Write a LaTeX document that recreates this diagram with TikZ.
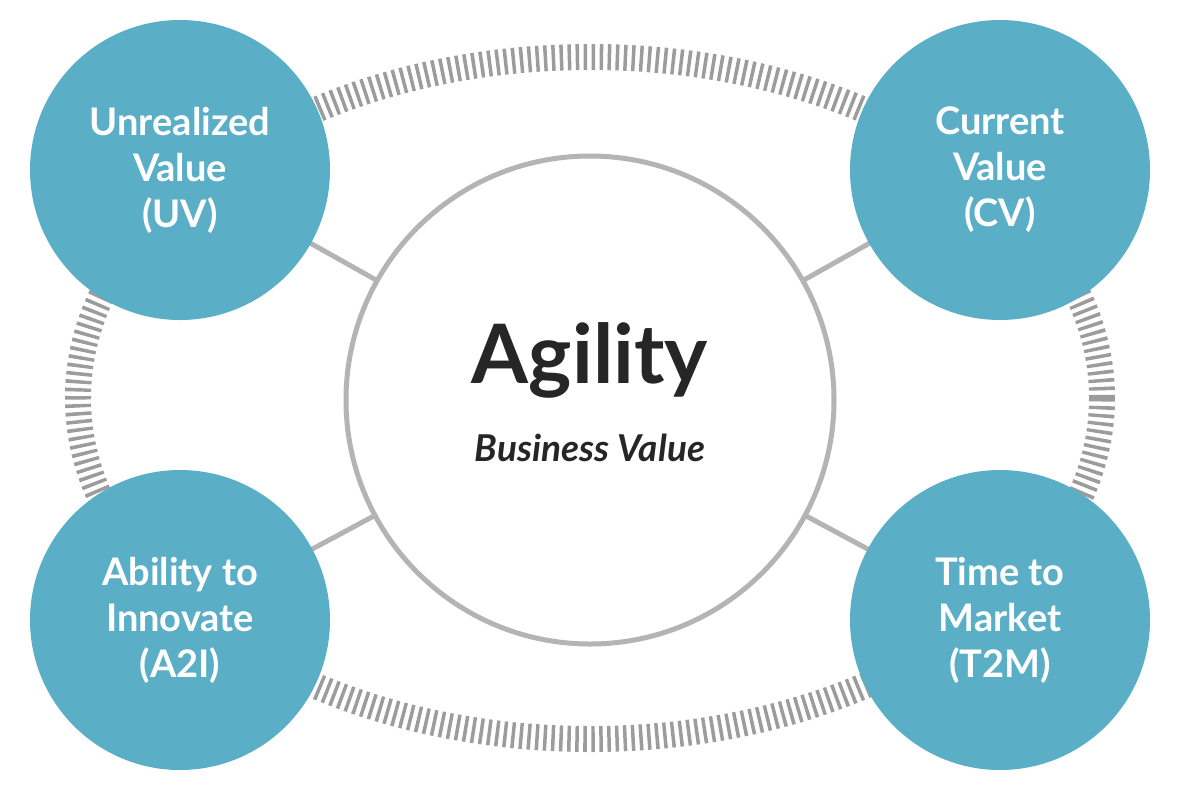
\documentclass[tikz,border=0pt]{standalone}
\usepackage{fontspec}
\setmainfont{Lato}
\definecolor{tealb}{HTML}{5AAFC7}
\definecolor{ringg}{HTML}{9C9C9C}
\definecolor{lineg}{HTML}{B4B4B6}
\begin{document}
\begin{tikzpicture}[x=1pt,y=-1pt,
  blue/.style={circle,fill=tealb,minimum size=300pt,inner sep=0pt,align=center,text=white,font=\fontsize{38}{46}\selectfont\bfseries},
  conn/.style={lineg,line width=5pt}]
\useasboundingbox (0,0) rectangle (1200,796);
\draw[ringg,line width=26pt,dash pattern=on 3.5pt off 4.5pt] (590,398) ellipse [x radius=512, y radius=341];
\coordinate (c) at (590,400);
\coordinate (puv) at (180,170);
\coordinate (pcv) at (1000,170);
\coordinate (pai) at (180,620);
\coordinate (ptm) at (1000,620);
\draw[conn] (c) -- (puv);
\draw[conn] (c) -- (pcv);
\draw[conn] (c) -- (pai);
\draw[conn] (c) -- (ptm);
\node[blue] (uv) at (puv) {Unrealized\\Value\\(UV)};
\node[blue] (cv) at (pcv) {Current\\Value\\(CV)};
\node[blue] (ai) at (pai) {Ability to\\Innovate\\(A2I)};
\node[blue] (tm) at (ptm) {Time to\\Market\\(T2M)};
\node[circle,draw=lineg,line width=5pt,fill=white,minimum size=488pt,inner sep=0pt] (mid) at (c) {};
\node[font=\fontsize{82}{86}\selectfont\bfseries,text=black!85] (ag) at (590,360) {Agility};
\node[font=\fontsize{37}{40}\selectfont\bfseries\itshape,text=black!85] (bv) at (590,448) {Business Value};
\end{tikzpicture}
\end{document}
